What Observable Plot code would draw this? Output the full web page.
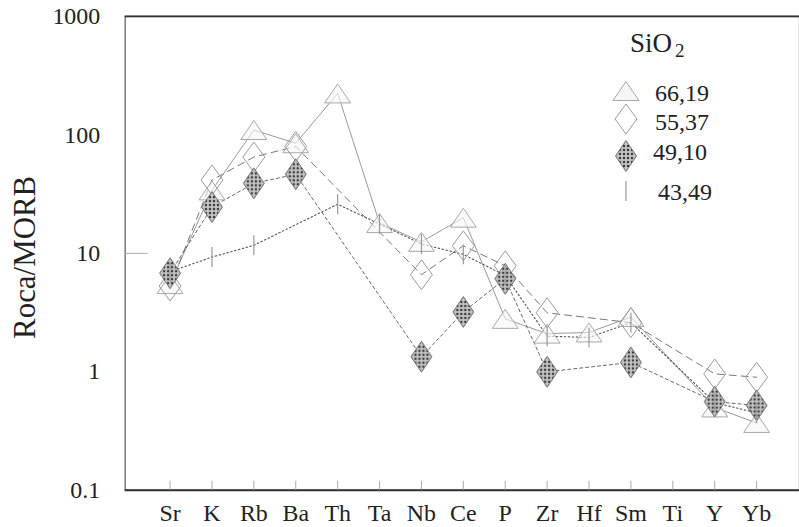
<!DOCTYPE html>
<html><head><meta charset="utf-8">
<script src="https://cdn.jsdelivr.net/npm/d3@7"></script>
<script src="https://cdn.jsdelivr.net/npm/@observablehq/plot@0.6"></script>
<style>
body{margin:0;background:#fff;overflow:hidden}
#wrap{position:relative;width:799px;height:527px;overflow:hidden}
#legend{position:absolute;left:0;top:0;pointer-events:none}
</style>
</head><body><div id="wrap"></div>
<script>
const categories = ["Sr","K","Rb","Ba","Th","Ta","Nb","Ce","P","Zr","Hf","Sm","Ti","Y","Yb"];
const yTicks = [0.1, 1, 10, 100, 1000];
const seriesNames = ["66,19", "55,37", "49,10", "43,49"];
const s6619 = [5.5, 34, 110, 85, 224, 18, 12.5, 20, 2.8, 2.1, 2.15, 2.9, null, 0.5, 0.37];
const s5537 = [5.3, 41.6, 65, 80, null, null, 6.6, 11.6, 7.85, 3.15, null, 2.6, null, 0.96, 0.9];
const s4910 = [6.8, 24.6, 39, 46.5, null, null, 1.34, 3.2, 6.1, 1.0, null, 1.2, null, 0.56, 0.52];
const s4349 = [7, 9.3, 11.7, null, 26, 17.7, 12, 9.8, 6.5, 2.0, 1.95, 2.6, null, 0.55, 0.45];

function rows(vals){ return vals.map((v,i)=>({cat:categories[i], v})).filter(d=>d.v!=null); }
const d6619 = rows(s6619), d5537 = rows(s5537), d4910 = rows(s4910), d4349 = rows(s4349);

function scaleK(size){ return Math.sqrt(size/Math.PI)/10; }
const triSym = {draw(c,size){const k=scaleK(size);c.moveTo(0,-9.5*k);c.lineTo(13*k,9.5*k);c.lineTo(-13*k,9.5*k);c.closePath();}};
const diaSym = {draw(c,size){const k=scaleK(size);c.moveTo(0,-15*k);c.lineTo(11*k,0);c.lineTo(0,15*k);c.lineTo(-11*k,0);c.closePath();}};
const dia2Sym = {draw(c,size){const k=scaleK(size);c.moveTo(0,-15.5*k);c.lineTo(10.5*k,0);c.lineTo(0,15.5*k);c.lineTo(-10.5*k,0);c.closePath();}};
const tickSym = {draw(c,size){const k=scaleK(size);c.moveTo(0,-10*k);c.lineTo(0,10*k);}};

const W = 801, H = 527, mL = 125, mT = 16, mB = 36;
const frameW = W - mL, frameH = H - mT - mB;

const chart = Plot.plot({
  width: W, height: H,
  marginLeft: mL, marginRight: 0, marginTop: mT, marginBottom: mB,
  x: {type: "point", domain: categories, range: [166.7, 762.3], padding: 0},
  y: {type: "log", domain: [0.1, 1000]},
  style: {fontFamily: "'Liberation Serif', 'DejaVu Serif', serif", fontSize: "24px", color: "#222", background: "#fff"},
  marks: [
    Plot.frame({stroke: "#666", strokeWidth: 1.3}),
    Plot.ruleY([0.1, 1000], {stroke: "#333", strokeWidth: 1.8}),
    Plot.ruleY([10], {stroke: "#aaa", insetRight: frameW - 23}),
    Plot.tickX(categories, {x: d => d, stroke: "#aaa", insetTop: frameH - 9}),
    Plot.axisY({ticks: yTicks, tickSize: 0, tickPadding: 25, tickFormat: d => String(d), label: null}),
    Plot.axisX({tickSize: 0, tickPadding: 14, label: null}),
    Plot.text(["Roca/MORB"], {text: d => d, frameAnchor: "left", textAnchor: "middle", dx: -100, dy: 4, rotate: -90, fontSize: 31, fill: "#222"}),
    Plot.line(d6619, {x: "cat", y: "v", stroke: "#9a9a9a", strokeWidth: 1}),
    Plot.line(d5537, {x: "cat", y: "v", stroke: "#777", strokeWidth: 1, strokeDasharray: "7,5"}),
    Plot.line(d4910, {x: "cat", y: "v", stroke: "#666", strokeWidth: 1, strokeDasharray: "3,3"}),
    Plot.line(d4349, {x: "cat", y: "v", stroke: "#555", strokeWidth: 1.1, strokeDasharray: "1.5,2.5"}),
    Plot.dot(d6619, {x: "cat", y: "v", symbol: triSym, r: 10, fill: "#f6f6f6", fillOpacity: 0.6, stroke: "#a8a8a8", strokeWidth: 1}),
    Plot.dot(d5537, {x: "cat", y: "v", symbol: diaSym, r: 10, fill: "none", stroke: "#9a9a9a", strokeWidth: 1}),
    Plot.dot(d4910, {x: "cat", y: "v", symbol: dia2Sym, r: 10, fill: "url(#pat4910)", stroke: "#777", strokeWidth: 1}),
    Plot.dot(d4349, {x: "cat", y: "v", symbol: tickSym, r: 10, fill: "none", stroke: "#999", strokeWidth: 1.2})
  ]
});

function addPattern(svgSel, id){
  const p = svgSel.insert("defs", ":first-child").append("pattern")
    .attr("id", id).attr("patternUnits", "userSpaceOnUse").attr("width", 4).attr("height", 4);
  p.append("rect").attr("width", 4).attr("height", 4).attr("fill", "#c4c4c4");
  p.append("circle").attr("cx", 2).attr("cy", 2).attr("r", 1.25).attr("fill", "#3a3a3a");
}
addPattern(d3.select(chart), "pat4910");
document.getElementById("wrap").appendChild(chart);

// legend
const lg = d3.select("#wrap").append("svg").attr("id", "legend").attr("width", 799).attr("height", 527)
  .style("font-family", "'Liberation Serif', 'DejaVu Serif', serif").style("fill", "#222");
addPattern(lg, "pat4910L");
const t = lg.append("text").attr("x", 630).attr("y", 52).attr("font-size", 27);
t.append("tspan").text("SiO");
t.append("tspan").attr("dx", 3).attr("dy", 5).attr("font-size", 19).text("2");
const cx = 626;
function symPath(sym){ const p = d3.path(); sym.draw(p, 100*Math.PI); return p.toString(); }
lg.append("path").attr("d", symPath(triSym))
  .attr("transform", `translate(${cx},91)`).attr("fill", "#f6f6f6").attr("stroke", "#a8a8a8");
lg.append("path").attr("d", symPath(diaSym))
  .attr("transform", `translate(${cx},119)`).attr("fill", "none").attr("stroke", "#9a9a9a");
lg.append("path").attr("d", symPath(dia2Sym))
  .attr("transform", `translate(${cx},156)`).attr("fill", "url(#pat4910L)").attr("stroke", "#777");
lg.append("path").attr("d", symPath(tickSym))
  .attr("transform", `translate(${cx},191)`).attr("fill", "none").attr("stroke", "#999").attr("stroke-width", 1.2);
const labelPos = [[655,101],[655,130],[653,160],[658,200]];
seriesNames.forEach((s,i)=>{
  lg.append("text").attr("x", labelPos[i][0]).attr("y", labelPos[i][1]).attr("font-size", 24).text(s);
});
</script>
</body></html>
